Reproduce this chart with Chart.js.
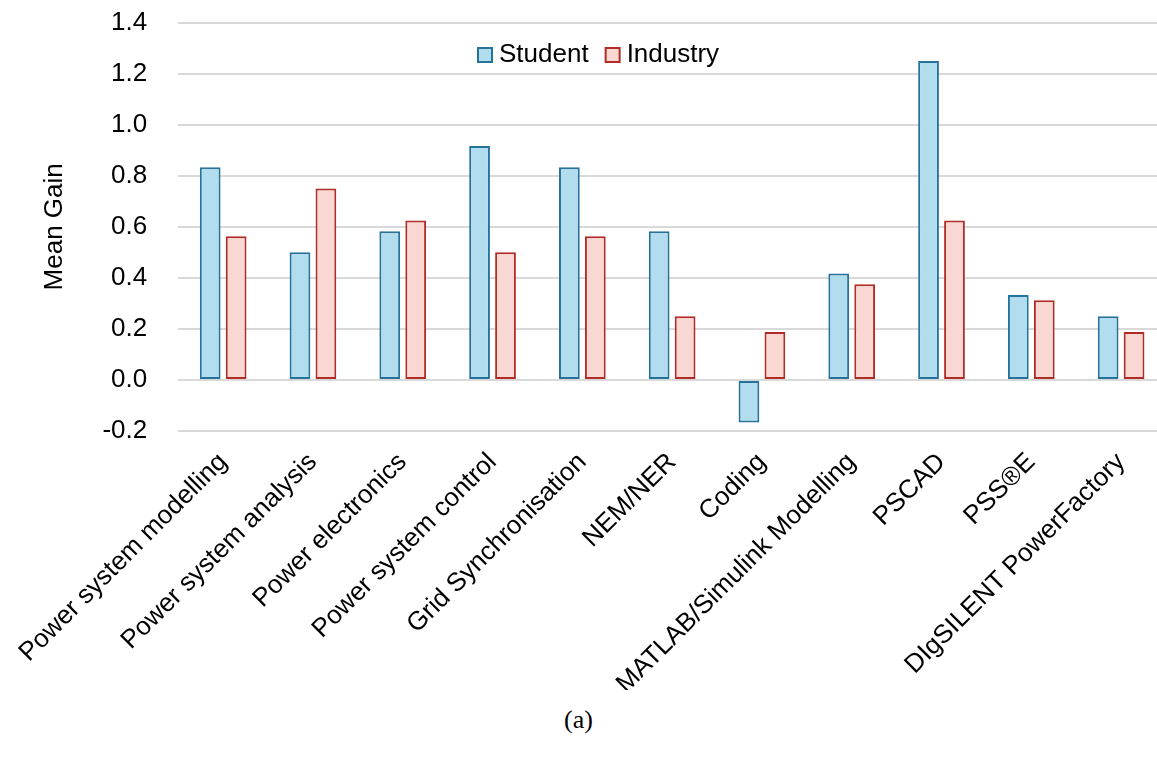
<!DOCTYPE html>
<html>
<head>
<meta charset="utf-8">
<script src="https://cdn.jsdelivr.net/npm/chart.js@4"></script>
<style>
  html, body { margin: 0; padding: 0; background: #fff; overflow: hidden; }
  #wrap { position: relative; width: 1157px; height: 765px; overflow: hidden; }
  #gainChart { position: absolute; left: 0; top: -24px; }
  #caption { position: absolute; left: 0; width: 1157px; top: 705px; text-align: center;
             font-family: "Liberation Serif", "DejaVu Serif", serif; font-size: 26px; color: #000; }
</style>
</head>
<body>
<div id="wrap">
  <canvas id="gainChart" width="1166" height="714"></canvas>
  <div id="caption">(a)</div>
</div>
<script>
const categories = [
    "Power system modelling", "Power system analysis", "Power electronics",
    "Power system control", "Grid Synchronisation", "NEM/NER", "Coding",
    "MATLAB/Simulink Modelling", "PSCAD", "PSS®E", "DIgSILENT PowerFactory"
];
const studentGain = [0.833, 0.5, 0.583, 0.917, 0.833, 0.583, -0.167, 0.417, 1.25, 0.333, 0.25];
const industryGain = [0.5625, 0.75, 0.625, 0.5, 0.5625, 0.25, 0.1875, 0.375, 0.625, 0.3125, 0.1875];
const yTicks = [-0.2, 0.0, 0.2, 0.4, 0.6, 0.8, 1.0, 1.2, 1.4];

const fontFamily = "'Liberation Sans', Arial, sans-serif";
const fontSize = 26;
const canvasShift = 24; // canvas is moved up by this much

// legend sits inside the plot, a bit left of centre
const innerLegend = {
    id: "innerLegend",
    afterDraw(chart) {
        const ctx = chart.ctx;
        ctx.save();
        ctx.font = fontSize + "px " + fontFamily;
        ctx.textBaseline = "middle";
        let x = 478;
        const y = 55 + canvasShift;
        chart.data.datasets.forEach(ds => {
            ctx.fillStyle = ds.backgroundColor;
            ctx.strokeStyle = ds.borderColor;
            ctx.lineWidth = 2;
            ctx.fillRect(x, y - 7, 14, 14);
            ctx.strokeRect(x, y - 7, 14, 14);
            ctx.fillStyle = "#000";
            ctx.fillText(ds.label, x + 21, y);
            x += 21 + ctx.measureText(ds.label).width + 17;
        });
        ctx.restore();
    }
};

const ctx = document.getElementById("gainChart").getContext("2d");
new Chart(ctx, {
    type: "bar",
    data: {
        labels: categories,
        datasets: [
            {
                label: "Student",
                data: studentGain,
                backgroundColor: "#b1ddef",
                borderColor: "#26729a",
                borderWidth: 2,
                borderSkipped: false,
                categoryPercentage: 0.578,
                barPercentage: 0.8
            },
            {
                label: "Industry",
                data: industryGain,
                backgroundColor: "#f9d8d4",
                borderColor: "#b02c24",
                borderWidth: 2,
                borderSkipped: false,
                categoryPercentage: 0.578,
                barPercentage: 0.8
            }
        ]
    },
    options: {
        responsive: false,
        animation: false,
        devicePixelRatio: 1,
        layout: { padding: { top: 0, left: 0, right: 0, bottom: 0 } },
        plugins: {
            legend: { display: false },
            tooltip: { enabled: false }
        },
        scales: {
            x: {
                grid: { display: false, drawTicks: false },
                border: { display: false },
                ticks: {
                    color: "#000",
                    font: { family: fontFamily, size: fontSize },
                    minRotation: 45,
                    maxRotation: 45,
                    padding: 16,
                    autoSkip: false
                },
                afterFit(scale) { scale.height = 714 - (431 + canvasShift); }
            },
            y: {
                min: -0.2,
                max: 1.4,
                afterBuildTicks(scale) { scale.ticks = yTicks.map(v => ({ value: v })); },
                grid: { color: "#d9d9d9", lineWidth: 2, drawTicks: false },
                border: { display: false },
                ticks: {
                    color: "#000",
                    font: { family: fontFamily, size: fontSize },
                    padding: 31,
                    callback: v => v.toFixed(1)
                },
                title: {
                    display: true,
                    text: "Mean Gain",
                    color: "#000",
                    font: { family: fontFamily, size: fontSize },
                    padding: { top: 35, bottom: 0 }
                },
                afterFit(scale) { scale.width = 174; }
            }
        }
    },
    plugins: [innerLegend]
});
</script>
</body>
</html>
